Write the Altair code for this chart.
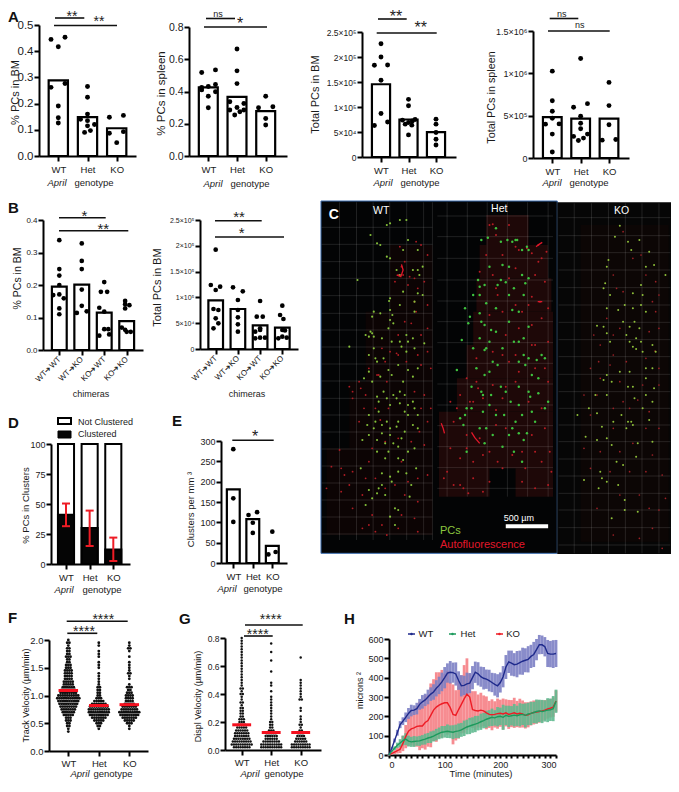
import altair as alt
import pandas as pd

W, H = 663, 771
FONT = "Liberation Sans"
GENO = ["WT", "Het", "KO"]
CHIM = ["WT➔WT", "WT➔KO", "KO➔WT", "KO➔KO"]

# ---------- panel A ----------
a1_bars = [0.289, 0.148, 0.106]
a1_dots = [[(-.25, .445), (.23, .453), (0, .417), (-.25, .262), (.23, .277), (0, .191), (0, .146), (0, .126)],
           [(0, .265), (0, .224), (0, .16), (-.24, .14), (0, .135), (.24, .12), (0, .115), (-.1, .09), (.1, .097)],
           [(-.25, .148), (.23, .155), (-.25, .087), (.23, .093), (0, .051)]]
a2_bars = [0.425, 0.367, 0.278]
a2_dots = [[(-.23, .518), (.25, .534), (-.23, .425), (.25, .443), (0, .431), (-.23, .41), (.25, .398), (0, .371), (0, .299)],
           [(0, .664), (0, .528), (0, .449), (-.25, .336), (.24, .326), (0, .301), (-.25, .285), (.24, .285), (.1, .274), (-.08, .254)],
           [(0, .371), (-.25, .299), (.25, .305), (0, .233), (0, .192)]]
a3_bars = [1.455e5, 0.75e5, 0.496e5]
a3_dots = [[(0, 2.265e5), (0, 2.0e5), (-.24, 1.836e5), (.24, 1.84e5), (0, 1.535e5), (0, .87e5), (-.24, .63e5), (.24, .70e5)],
           [(0, 1.153e5), (0, 1.025e5), (-.22, .737e5), (0, .69e5), (.24, .75e5), (.14, .72e5), (-.12, .657e5), (.12, .637e5), (0, .442e5)],
           [(0, .757e5), (0, .657e5), (0, .49e5), (0, .355e5), (0, .241e5)]]
a4_bars = [4.82e5, 4.66e5, 4.66e5]
a4_dots = [[(0, 1.026e6), (0, 6.77e5), (0, 5.52e5), (0, 4.7e5), (-.24, 4.0e5), (.24, 4.03e5), (0, 2.82e5), (0, .7e5)],
           [(0, 1.175e6), (-.25, 6.0e5), (.24, 6.42e5), (0, 4.93e5), (0, 4.11e5), (0, 3.45e5), (-.25, 2.55e5), (.24, 2.82e5), (-.08, 2.07e5), (.1, 2.35e5)],
           [(0, 8.93e5), (0, 6.19e5), (0, 3.92e5), (-.24, 2.11e5), (.24, 2.19e5)]]

# ---------- panel B ----------
b1_bars = [.195, .201, .115, .089]
b1_dots = [[(0, .338), (0, .249), (0, .229), (0, .2), (-.27, .169), (0, .171), (.2, .159), (0, .128), (0, .11)],
           [(0, .328), (0, .274), (0, .249), (0, .186), (0, .136), (-.22, .114), (.22, .119)],
           [(0, .209), (-.15, .179), (.13, .179), (-.22, .13), (0, .118), (0, .064), (.18, .064), (-.22, .044), (.22, .048)],
           [(-.07, .151), (-.07, .141), (.12, .138), (-.07, .128), (-.22, .069), (-.07, .062), (.18, .056), (0, .056)]]
b2_bars = [.943e5, .775e5, .459e5, .413e5]
b2_dots = [[(0, 1.925e5), (-.22, 1.24e5), (.2, 1.208e5), (0, 1.143e5), (-.1, .775e5), (.12, .756e5), (0, .594e5), (.12, .497e5), (-.1, .40e5)],
           [(-.22, 1.195e5), (.22, 1.118e5), (0, .95e5), (0, .756e5), (0, .614e5), (0, .478e5), (0, .336e5)],
           [(0, .93e5), (-.15, .627e5), (.12, .627e5), (0, .40e5), (-.22, .336e5), (0, .22e5), (-.22, .207e5), (.22, .22e5), (0, .368e5)],
           [(0, .84e5), (-.1, .659e5), (.05, .581e5), (0, .368e5), (-.18, .207e5), (0, .239e5), (.2, .22e5), (.12, .36e5)]]

# ---------- panels D, E ----------
d_clustered = [41, 30, 12]
d_err_low = [31.5, 15, 2.5]
d_err_high = [50.4, 44.5, 22]
e_bars = [181, 108, 42]
e_dots = [[(0, 280), (0, 159), (0, 101)],
          [(-.22, 118), (.22, 125), (0, 99), (0, 74)],
          [(0, 77), (-.2, 21), (.17, 27)]]

# ---------- panels F, G (value, number of cells at that value) ----------
f_means = [1.09, .82, .835]
f_swarm = [
    [(.35, 1), (.4, 1), (.45, 2), (.5, 2), (.55, 3), (.6, 3), (.65, 5), (.7, 6), (.75, 7), (.8, 8), (.85, 9), (.9, 10), (.95, 11), (1.0, 10), (1.05, 8), (1.1, 7), (1.15, 6), (1.2, 5), (1.25, 5), (1.3, 4), (1.35, 4), (1.4, 4), (1.45, 4), (1.5, 3), (1.55, 3), (1.6, 2), (1.65, 2), (1.7, 3), (1.75, 2), (1.8, 2), (1.85, 2), (1.9, 1), (1.95, 2), (2.0, 1)],
    [(.4, 1), (.45, 2), (.5, 3), (.55, 5), (.6, 7), (.65, 9), (.7, 10), (.75, 10), (.8, 9), (.85, 7), (.9, 5), (.95, 3), (1.0, 2), (1.05, 2), (1.1, 2), (1.15, 2), (1.2, 1), (1.25, 1), (1.3, 1), (1.35, 1), (1.4, 1), (1.5, 1), (1.55, 1), (1.6, 1), (1.7, 1), (1.75, 1), (1.8, 1), (1.9, 1), (1.95, 1)],
    [(.4, 1), (.45, 1), (.5, 3), (.55, 5), (.6, 7), (.65, 9), (.7, 10), (.75, 8), (.8, 7), (.85, 5), (.9, 4), (.95, 4), (1.0, 4), (1.05, 3), (1.1, 2), (1.15, 3), (1.2, 1), (1.3, 1), (1.35, 1), (1.4, 2), (1.45, 1), (1.5, 1), (1.55, 1), (1.6, 1), (1.7, 1), (1.8, 1), (1.85, 2), (1.9, 1), (1.95, 1)]]
g_means = [.18, .125, .125]
g_swarm = [
    [(.02, 8), (.04, 10), (.06, 9), (.08, 8), (.1, 7), (.12, 7), (.14, 6), (.16, 5), (.18, 4), (.2, 3), (.22, 3), (.24, 2), (.26, 2), (.28, 2), (.3, 2), (.32, 1), (.34, 2), (.36, 1), (.38, 1), (.4, 2), (.42, 1), (.44, 2), (.46, 1), (.48, 1), (.5, 1), (.52, 1), (.54, 1), (.56, 1), (.58, 1), (.6, 1), (.62, 1), (.64, 1), (.66, 1), (.68, 1), (.7, 1), (.72, 1), (.74, 1), (.76, 1), (.78, 1), (.8, 1)],
    [(.02, 10), (.04, 10), (.06, 8), (.08, 6), (.1, 6), (.12, 5), (.14, 3), (.16, 2), (.18, 2), (.2, 2), (.22, 1), (.24, 1), (.26, 1), (.28, 1), (.3, 1), (.32, 1), (.34, 1), (.36, 1), (.38, 1), (.42, 1), (.46, 1), (.48, 1), (.56, 1), (.64, 1), (.7, 1), (.76, 1)],
    [(.02, 9), (.04, 9), (.06, 6), (.08, 5), (.1, 4), (.12, 3), (.14, 2), (.16, 1), (.18, 2), (.2, 1), (.22, 1), (.24, 1), (.28, 1), (.3, 1), (.36, 2), (.38, 1), (.4, 1), (.42, 1), (.44, 1), (.46, 1), (.48, 1), (.5, 1), (.66, 1)]]

# ---------- panel H (one value every 5 minutes) ----------
h_time = list(range(0, 301, 5))
h_wt = [0, 35, 75, 115, 157, 175, 195, 215, 230, 232, 240, 262, 275, 285, 300, 315, 326, 345, 360, 378,
        400, 424, 428, 426, 419, 385, 358, 360, 368, 372, 400, 428, 420, 405, 397, 392, 385, 375, 365, 358,
        375, 405, 455, 482, 475, 467, 470, 478, 485, 490, 495, 510, 520, 545, 571, 570, 560, 525, 522, 522, 525]
h_wt_sd = [2, 6, 10, 15, 18, 20, 25, 28, 30, 25, 30, 28, 35, 32, 38, 35, 40, 42, 45, 48,
           55, 50, 58, 52, 60, 48, 55, 50, 58, 52, 60, 55, 60, 52, 58, 50, 56, 50, 58, 60,
           52, 55, 62, 58, 65, 60, 68, 62, 70, 62, 68, 60, 65, 55, 50, 48, 50, 70, 68, 72, 70]
h_het = [0, 20, 35, 50, 62, 75, 82, 72, 68, 70, 72, 73, 78, 82, 88, 92, 98, 105, 112, 118,
         120, 123, 120, 118, 122, 125, 130, 138, 145, 150, 155, 160, 165, 172, 178, 185, 190, 195, 192, 198,
         200, 195, 205, 200, 203, 206, 203, 208, 210, 205, 212, 215, 220, 225, 228, 225, 228, 232, 234, 240, 278]
h_het_sd = [2, 5, 10, 14, 20, 25, 30, 28, 26, 28, 24, 26, 25, 28, 26, 30, 28, 30, 30, 32,
            30, 35, 33, 36, 35, 38, 36, 40, 38, 42, 40, 42, 38, 42, 40, 44, 42, 45, 40, 50,
            45, 65, 50, 55, 50, 58, 52, 60, 55, 62, 58, 60, 55, 62, 58, 60, 55, 62, 58, 65, 60]
h_ko = [0, 8, 15, 22, 30, 60, 95, 123, 135, 140, 148, 150, 150, 168, 178, 205, 232, 248, 258, 265,
        270, 270, 245, 210, 205, 235, 262, 290, 315, 300, 235, 230, 228, 232, 228, 218, 210, 208, 210, 214,
        216, 212, 218, 210, 214, 218, 212, 216, 212, 205, 208, 215, 220, 222, 225, 228, 232, 238, 242, 248, 279]
h_ko_sd = [3, 6, 10, 14, 20, 40, 60, 75, 85, 95, 105, 125, 115, 140, 135, 165, 160, 180, 170, 175,
           150, 165, 130, 155, 130, 150, 150, 175, 185, 120, 95, 100, 85, 90, 80, 85, 70, 80, 68, 78,
           70, 80, 70, 75, 70, 78, 68, 75, 70, 68, 65, 62, 62, 60, 58, 55, 52, 50, 48, 50, 55]

# ---------- panel C (positions read in panel units) ----------
wt_green = [(205,90),(245,75),(265,75),(215,85),(155,120),(175,145),(185,150),(270,135),(300,165),(255,165),(205,185),(215,190),(235,225),(285,225),(300,225),(315,215),(245,240),(305,240),(115,255),(255,290),(300,295),(215,310),(212,318),(245,330),(315,300),(290,320),(165,350),(185,355),(215,345),(222,360),(215,375),(225,385),(160,365),(210,400),(160,415),(150,425),(165,425),(190,430),(265,420),(270,440),(285,430),(245,440),(90,455),(165,460),(170,490),(195,490),(240,510),(265,470),(290,460),(320,445),(150,530),(135,550),(160,560),(185,545),(220,540),(255,560),(285,545),(300,520),(175,605),(195,590),(235,610),(245,625),(270,630),(285,620),(290,640),(215,630),(150,660),(180,650),(205,680),(240,680),(235,695),(270,660),(285,690),(300,700),(145,690),(165,700),(190,715),(215,720),(225,745),(240,755),(250,730),(130,735),(270,770),(255,795),(290,760),(125,820),(200,790),(190,835),(215,845),(240,830),(265,835),(295,820),(180,880),(175,895),(190,870),(150,885),(230,940),(240,945),(140,930),(215,965),(280,870),(275,905),
            (150,720),(175,735),(200,745),(245,590),(260,600),(225,600),(205,610),(180,620),(260,650),(300,660),(170,680),(190,690),(215,700),(260,710),(175,770),(210,770),(240,790),(175,500),(150,480),(210,525),(270,525),(140,420),(155,410),(250,455),(220,440),(200,900),(220,860),(160,910),(230,990),(290,350)]
wt_red = [(250,215),(240,240),(255,240),(275,245),(290,250),(295,140),(245,155),(90,575),(100,590),(125,580),(140,600),(100,610),(180,540),(205,560),(235,475),(300,480),(330,400),(280,385),(190,460),(60,765),(35,815),(65,820),(75,840),(20,880),(65,890),(90,870),(185,675),(340,640),(305,710),(290,320),(320,600),(250,800),(200,880),(150,990),(205,1020),(170,1010),(260,900),(240,1000),(300,920),
          (120,560),(150,520),(175,540),(200,500),(215,470),(240,480),(265,500),(310,510),(330,470),(340,520),(290,590),(310,640),(330,680),(210,640),(170,640),(135,640),(120,680),(160,760),(200,740),(240,730),(280,740),(320,750),(150,800),(100,830),(140,850),(170,850),(230,870),(270,860),(300,850),(330,840),(130,900),(100,940),(160,960),(250,960),(290,970),(130,1000),(190,990),(300,1010),(270,270),(230,260),(320,260),(300,280),(260,200),(330,180),(310,150),(295,350),(330,330),(260,380),(240,420),(310,420)]
het_green = [(515,128),(555,140),(575,135),(590,140),(605,135),(635,155),(495,135),(520,215),(560,210),(620,240),(630,265),(640,250),(555,255),(570,262),(485,255),(505,270),(490,275),(595,280),(625,300),(510,325),(540,340),(445,340),(460,365),(490,355),(495,380),(505,390),(525,405),(540,410),(455,385),(610,350),(580,380),(625,430),(640,395),(505,465),(510,460),(490,430),(435,435),(595,440),(625,480),(640,490),(630,510),(680,480),(545,510),(505,540),(480,520),(420,525),(520,530),(650,540),(670,550),(465,575),(495,590),(525,600),(555,575),(585,620),(645,605),(670,595),(610,630),(430,670),(445,660),(465,640),(500,650),(520,630),(600,680),(660,680),(565,660),(440,690),(490,700),(510,700),(530,720),(580,720),(610,715),(635,715),(625,735),(450,770),(505,745),(595,770),(620,800),(560,755),(650,650),(700,620),(690,640),(640,165),(540,100),(580,300),(470,300),(610,440),(520,440),
             (600,135),(620,165),(580,215),(490,300),(545,270),(530,500),(570,590),(640,590),(610,575),(590,700),(450,640),(690,490),(665,495),(610,500),(470,460),(560,460),(590,345),(500,600),(540,660),(620,660)]
het_red = [(530,88),(580,90),(520,90),(670,150),(695,170),(670,200),(650,305),(675,320),(570,575),(540,645),(545,800),(635,160),(600,155),(485,580),(560,610),(420,640),(400,620),(440,880),(430,870),(520,860),(380,850),(470,850),(500,780),(590,780),(660,770),(705,770),(580,250),(545,300),(620,350),(650,450),(580,500),(470,620),(600,560),(690,520),(450,760),(630,820),
           (540,120),(610,165),(650,175),(680,190),(560,180),(510,180),(490,230),(530,240),(600,220),(660,240),(690,260),(540,280),(640,330),(700,340),(600,330),(560,350),(520,360),(680,370),(650,390),(610,400),(570,420),(530,470),(560,480),(600,480),(660,450),(700,440),(480,490),(450,550),(480,560),(530,570),(610,530),(660,520),(700,560),(430,600),(460,620),(500,610),(640,620),(680,640),(410,680),(450,720),(490,730),(540,690),(570,700),(650,720),(690,700),(400,760),(430,790),(470,800),(520,770),(560,820),(620,770),(680,800),(710,830),(390,830),(410,870),(455,895),(500,890),(620,860),(660,880),(700,870)]
ko_green = [(920,92),(905,125),(945,140),(980,135),(1010,170),(955,165),(885,195),(880,215),(1000,215),(1025,210),(1060,240),(875,265),(890,300),(960,295),(985,270),(880,340),(915,345),(985,330),(1000,350),(850,392),(870,395),(965,380),(950,395),(980,400),(940,420),(970,430),(985,440),(960,455),(970,462),(880,415),(1030,470),(880,540),(870,555),(920,530),(1020,520),(1000,550),(1025,580),(945,575),(960,575),(1000,600),(965,610),(880,600),(790,660),(850,655),(925,660),(945,680),(955,680),(1010,675),(865,695),(880,730),(815,725),(850,735),(940,700),(975,745),(860,830),(865,850),(855,880),(810,855),(910,800),(970,785),(915,870),(935,915),(895,970),(935,945),(975,950),(1020,620),(990,640),
            (870,280),(935,330),(960,340),(990,300),(930,380),(950,440),(990,470),(1000,520),(895,560),(950,530),(845,600),(825,640),(900,680),(960,690),(1020,740),(895,750),(930,810),(880,860),(1020,450),(890,440)]
ko_red = [(1028,468),(855,500),(890,510),(975,615),(960,745),(1020,1000),(920,560),(985,180),(1040,300),(1030,350),(900,640),(1060,910),(1040,945),(850,600),(900,420),(1000,700),(950,640),(910,280),(840,420),
          (930,110),(960,190),(1000,240),(1030,260),(900,240),(930,290),(1020,320),(880,370),(920,400),(1010,410),(1040,400),(860,450),(900,480),(940,500),(1000,490),(1040,520),(830,520),(860,550),(990,570),(1040,570),(810,600),(930,620),(1010,650),(830,660),(900,700),(1040,700),(810,760),(860,770),(920,770),(1020,780),(830,820),(890,830),(950,830),(1000,830),(1050,840),(920,900),(980,900),(1010,940),(850,940),(900,1020),(1050,1060),(980,1030)]
streaks = [[(250,208),(255,225),(248,245),(235,240)], [(372,685),(378,700),(382,715)],
           [(465,712),(475,728),(490,745)], [(663,155),(672,148),(682,142)], [(668,320),(682,320)]]
# rows of tissue haze: top, bottom, left, right
het_haze = [(60,150,510,640),(150,250,490,700),(250,350,480,710),(350,450,470,715),(450,550,450,715),
            (550,650,420,715),(650,820,365,715),(820,905,365,520),(820,905,600,715)]
wt_haze = [(150,350,215,345),(350,560,140,345),(560,760,90,345),(760,1020,20,345)]
ko_haze = [(90,1040,800,1070)]
wt_gv = [60, 112, 163, 214, 266, 318, 345]
wt_gh = [97, 148, 200, 250, 302, 355, 405, 456, 507, 558, 610, 660, 711, 762, 813, 864, 915, 966, 1017]
het_gv = [390, 452, 513, 575, 637, 700]
het_gh = [63, 125, 190, 255, 318, 380, 443, 505, 567, 630, 692, 755, 818, 880]
ko_gv = [780, 833, 885, 937, 988, 1040]
ko_gh = [68, 122, 173, 225, 278, 330, 382, 434, 485, 538, 590, 640, 690, 740, 792, 843, 895, 945, 998, 1050]

layers = []


def mkscale(dom, rng):
    return alt.Scale(domain=dom, range=rng, nice=False, zero=False)


PAGE = (mkscale([0, 679], [-8, 671]), mkscale([0, 792], [-8, 784]))
IMG = (mkscale([0, 1077], [312, 663]), mkscale([0, 1095], [187, 552]))


def enc(s, x="x", y="y", xa=None, ya=None, **kw):
    e = dict(x=alt.X(x, type="quantitative", scale=s[0], axis=xa),
             y=alt.Y(y, type="quantitative", scale=s[1], axis=ya))
    for k, v in kw.items():
        if k == "x2":
            e["x2"] = alt.X2(v)
        elif k == "y2":
            e["y2"] = alt.Y2(v)
        else:
            e[k] = v
    return e


def text(px, py, s, size=9.5, color="#1a1a1a", scale=PAGE, **kw):
    layers.append(alt.Chart(pd.DataFrame({"x": [px], "y": [py]})).mark_text(
        text=s, fontSize=size, font=FONT, color=color, **kw).encode(**enc(scale)))


def bracket(x1, x2, y):
    layers.append(alt.Chart(pd.DataFrame({"x": [x1], "xe": [x2], "y": [y]})).mark_rule(
        color="#111", strokeWidth=1.6).encode(**enc(PAGE, x2="xe")))


def stars(x, yc, s, size=16):
    text(x, yc + .58 * size, s, size=size, baseline="alphabetic", color="#222", align="center")


def april(xa, xg, y, size=9.5):
    text(xa, y, "April", size=size, fontStyle="italic")
    text(xg, y, "genotype", size=size)


def lab_expr(mapping):
    return "{" + ",".join(f"'{k}':'{v}'" for k, v in mapping.items()) + "}[''+datum.value]"


def axes(x0, x1, y0, yt, centers, names, yvals, ylabels, title, tx, ty, lsize, tsize, xsize=9.5, angle=None, xpad=3):
    sp = (centers[-1] - centers[0]) / (len(centers) - 1)
    xs = mkscale([(x0 - centers[0]) / sp, (x1 - centers[0]) / sp], [x0 - 8, x1 - 8])
    ys = mkscale([yvals[0], yvals[-1]], [y0 - 8, yt - 8])
    xkw = dict(labelAngle=angle, labelAlign="right", labelBaseline="middle") if angle is not None else {}
    xa = alt.Axis(orient="bottom", offset=(y0 - 8) - H, values=list(range(len(names))), title=None,
                  labelExpr="[" + ",".join(f"'{n}'" for n in names) + "][datum.value]",
                  labelFontSize=xsize, labelPadding=xpad, labelOverlap=False, **xkw)
    ya = alt.Axis(orient="left", offset=-(x0 - 8), values=yvals, title=title, titleFontSize=tsize,
                  titleX=tx - x0, titleY=ty - 8, titleAngle=270, titleBaseline="middle", titleAlign="center",
                  labelFontSize=lsize, labelPadding=1,
                  labelExpr=lab_expr(dict(zip([str(v) for v in yvals], ylabels))), labelOverlap=False)
    return (xs, ys), xa, ya


def bar_panel(x0, x1, y0, yt, centers, names, yvals, ylabels, title, tx, ty, lsize, tsize, bars, dots,
              half=.33, size=24, xsize=9.5, angle=None):
    s, xa, ya = axes(x0, x1, y0, yt, centers, names, yvals, ylabels, title, tx, ty, lsize, tsize, xsize, angle)
    df = pd.DataFrame({"x": [i - half for i in range(len(bars))], "xe": [i + half for i in range(len(bars))],
                       "y": bars, "ye": [0] * len(bars)})
    layers.append(alt.Chart(df).mark_rect(fill="white", stroke="black", strokeWidth=2.2).encode(
        **enc(s, xa=xa, ya=ya, x2="xe", y2="ye")))
    rows = [{"x": i + o, "y": v} for i, g in enumerate(dots) for o, v in g]
    layers.append(alt.Chart(pd.DataFrame(rows)).mark_circle(size=size, color="black", opacity=1).encode(**enc(s)))


# ---------- A ----------
bar_panel(39, 136, 156, 25, [58.3, 87.3, 116.7], GENO, [0, .1, .2, .3, .4, .5],
          ["0.0", "0.1", "0.2", "0.3", "0.4", "0.5"], "%  PCs in  BM", 15, 92, 11.5, 11, a1_bars, a1_dots)
bar_panel(189, 287, 156, 27, [208.3, 237.3, 265.7], GENO, [0, .2, .4, .6, .8],
          ["0.0", "0.2", "0.4", "0.6", "0.8"], "%  PCs in spleen", 161, 93, 10.5, 11.5, a2_bars, a2_dots)
bar_panel(362, 456, 157, 32, [381, 408.3, 436], GENO, [0, 50000, 100000, 150000, 200000, 250000],
          ["0", "5×10⁴", "1×10⁵", "1.5×10⁵", "2×10⁵", "2.5×10⁵"], "Total PCs in BM", 315, 94, 8.5, 11, a3_bars, a3_dots)
bar_panel(533, 629, 158, 31, [552.3, 580.7, 609], GENO, [0, 500000, 1000000, 1500000],
          ["0", "5×10⁵", "1×10⁶", "1.5×10⁶"], "Total PCs in spleen", 491, 97, 9, 10.8, a4_bars, a4_dots)
april(57, 94, 183)
april(213, 250, 184)
april(383, 420, 183)
april(552, 589, 183)
bracket(55, 84.3, 18); stars(72, 12.5, "**", 14)
bracket(54, 117, 25.5); stars(99, 18, "**", 14)
bracket(206, 235, 18.5); text(218, 13.5, "ns", size=9)
bracket(204, 267, 27); stars(240, 19.5, "*")
bracket(378, 406.7, 19); stars(396, 13, "**")
bracket(376.7, 436.7, 33); stars(420.7, 24, "**")
bracket(549.7, 578.3, 18.5); text(561.7, 13.5, "ns", size=9)
bracket(548, 609.7, 31); text(579.7, 24.5, "ns", size=9)

# ---------- B ----------
bar_panel(43, 143, 350, 220, [59.3, 81.7, 104.3, 126.7], CHIM, [0, .1, .2, .3, .4],
          ["0.0", "0.1", "0.2", "0.3", "0.4"], "%  PCs in  BM", 17, 278, 8, 10.5, b1_bars, b1_dots,
          size=22, xsize=8, angle=-45)
bar_panel(200, 298, 349, 220, [215.7, 237.3, 260, 282.3], CHIM, [0, 50000, 100000, 150000, 200000, 250000],
          ["0", "5×10⁴", "1×10⁵", "1.5×10⁵", "2×10⁵", "2.5×10⁵"], "Total PCs in BM", 157, 287, 7, 11, b2_bars, b2_dots,
          size=22, xsize=8, angle=-45)
text(91, 394, "chimeras", size=9)
text(247, 394, "chimeras", size=9)
bracket(59, 105.7, 217.7); stars(84.3, 212, "*", 15)
bracket(59, 128.3, 230.7); stars(103.3, 225.7, "**", 15)
bracket(215, 261.7, 220.7); stars(239, 213.5, "**", 15)
bracket(215, 284, 237); stars(241.7, 229.5, "*", 15)

# ---------- D ----------
s, xa, ya = axes(51, 130, 564, 444, [66, 89.3, 113.3], GENO, [0, 25, 50, 75, 100],
                 ["0", "25", "50", "75", "100"], "% PCs in Clusters", 25, 505, 9, 9.5)
df = pd.DataFrame({"x": [i - .34 for i in range(3)], "xe": [i + .34 for i in range(3)],
                   "y": [100] * 3, "ye": [0] * 3, "c": d_clustered})
layers.append(alt.Chart(df).mark_rect(fill="white", stroke="black", strokeWidth=2).encode(
    **enc(s, xa=xa, ya=ya, x2="xe", y2="ye")))
layers.append(alt.Chart(df).mark_rect(fill="#050505", stroke="black", strokeWidth=2).encode(
    **enc(s, y="c", x2="xe", y2="ye")))
df_e = pd.DataFrame({"x": list(range(3)), "lo": d_err_low, "hi": d_err_high,
                     "a": [i - .17 for i in range(3)], "b": [i + .17 for i in range(3)]})
layers.append(alt.Chart(df_e).mark_rule(color="#ee1c25", strokeWidth=2).encode(**enc(s, y="lo", y2="hi")))
layers.append(alt.Chart(df_e).mark_rule(color="#ee1c25", strokeWidth=2).encode(**enc(s, x="a", y="lo", x2="b")))
layers.append(alt.Chart(df_e).mark_rule(color="#ee1c25", strokeWidth=2).encode(**enc(s, x="a", y="hi", x2="b")))
april(64, 102, 590)
leg = pd.DataFrame({"x": [58, 58], "xe": [71, 71], "y": [418, 431], "ye": [424, 438]})
layers.append(alt.Chart(leg.iloc[[0]]).mark_rect(fill="white", stroke="black", strokeWidth=2).encode(**enc(PAGE, x2="xe", y2="ye")))
layers.append(alt.Chart(leg.iloc[[1]]).mark_rect(fill="#050505", stroke="black", strokeWidth=1).encode(**enc(PAGE, x2="xe", y2="ye")))
text(78, 421.5, "Not Clustered", size=9, align="left")
text(78, 434, "Clustered", size=9, align="left")

# ---------- E ----------
bar_panel(221, 287, 563, 441, [233.3, 252.7, 272.3], GENO, [0, 50, 100, 150, 200, 250, 300],
          ["0", "50", "100", "150", "200", "250", "300"], "Clusters per mm ³", 190, 509, 9, 9.5, e_bars, e_dots, size=22)
april(227, 263, 589)
bracket(232.3, 273.7, 440.3); stars(255, 433, "*")


# ---------- F, G ----------
def swarm_panel(x0, x1, y0, yt, centers, yvals, ylabels, title, tx, ty, lsize, tsize, swarm, means, step, size, half):
    s, xa, ya = axes(x0, x1, y0, yt, centers, GENO, yvals, ylabels, title, tx, ty, lsize, tsize, xsize=9.5, xpad=2)
    rows = [{"x": i + (j - (n - 1) / 2) * step, "y": v}
            for i, g in enumerate(swarm) for v, n in g for j in range(n)]
    layers.append(alt.Chart(pd.DataFrame(rows)).mark_circle(size=size, color="#111", opacity=1).encode(
        **enc(s, xa=xa, ya=ya)))
    df = pd.DataFrame({"x": [i - half for i in range(3)], "xe": [i + half for i in range(3)], "y": means})
    layers.append(alt.Chart(df).mark_rule(color="#f5101f", strokeWidth=3).encode(**enc(s, x2="xe")))


swarm_panel(49, 148, 751, 640, [68.3, 98.3, 129.3], [0, .5, 1, 1.5, 2], ["0.0", "0.5", "1.0", "1.5", "2.0"],
            "Track Velocity (µm/min)", 25, 695, 9.5, 9, f_swarm, f_means, .072, 8, .32)
swarm_panel(225, 321, 750, 638, [241.7, 271.7, 300.7], [0, .2, .4, .6, .8], ["0.0", "0.2", "0.4", "0.6", "0.8"],
            "Displ Velocity (µm/min)", 197, 696, 8.5, 9, g_swarm, g_means, .075, 6, .32)
april(80, 113, 774, size=9.5)
april(250, 284, 774, size=9.5)
bracket(67.3, 97.3, 633.3); stars(84, 628, "****", 14)
bracket(66.7, 127.7, 621.3); stars(103.3, 615.5, "****", 14)
bracket(244, 272.7, 636); stars(257.7, 630.5, "****", 14)
bracket(245, 302.7, 625); stars(270.7, 616, "****", 14)

# ---------- H ----------
hs = (mkscale([0, 300], [389 - 8, 556 - 8]), mkscale([0, 600], [755 - 8, 639 - 8]))
hx = alt.Axis(orient="bottom", offset=(755 - 8) - H, values=list(range(0, 301, 10)), title=None,
              labelExpr="datum.value % 100 === 0 ? datum.value : ''", labelFontSize=9, labelPadding=2,
              tickSize=3, labelOverlap=False)
hy = alt.Axis(orient="left", offset=-(389 - 8), values=list(range(0, 601, 100)), title="microns ²", titleFontSize=9,
              titleX=359 - 389, titleY=690 - 8, titleAngle=270, titleBaseline="middle", titleAlign="center",
              labelFontSize=9, labelPadding=1, labelOverlap=False)
series = [("KO", h_ko, h_ko_sd, "#ee1c25", "#f57f85"), ("WT", h_wt, h_wt_sd, "#1f2a8c", "#7c80c4"),
          ("Het", h_het, h_het_sd, "#1c9a5c", "#5fb98f")]
first = True
for name, m, sd, col, band in series:
    df = pd.DataFrame({"x": h_time, "y": m, "lo": [a - b for a, b in zip(m, sd)], "hi": [a + b for a, b in zip(m, sd)]})
    kw = dict(xa=hx, ya=hy) if first else {}
    first = False
    layers.append(alt.Chart(df).mark_rule(color=band, strokeWidth=2.8, opacity=.9).encode(**enc(hs, y="lo", y2="hi", **kw)))
for name, m, sd, col, band in series:
    df = pd.DataFrame({"x": h_time, "y": m})
    layers.append(alt.Chart(df).mark_line(color=col, strokeWidth=1.4).encode(**enc(hs)))
for x1, col, tx, name in [(408, "#1f2a8c", 426, "WT"), (449, "#1c9a5c", 468, "Het"), (496, "#ee1c25", 513, "KO")]:
    bracket_df = pd.DataFrame({"x": [x1], "xe": [x1 + 7], "y": [634]})
    layers.append(alt.Chart(bracket_df).mark_rule(color=col, strokeWidth=1.5).encode(**enc(PAGE, x2="xe")))
    layers.append(alt.Chart(pd.DataFrame({"x": [x1 + 3.5], "y": [634]})).mark_circle(size=6, color=col, opacity=1).encode(**enc(PAGE)))
    text(tx, 633.5, name, size=9.5)
text(481, 774, "Time (minutes)", size=9.5)

# ---------- C ----------
layers.append(alt.Chart(pd.DataFrame({"x": [3], "xe": [728], "y": [18], "ye": [1075]})).mark_rect(
    fill="#030405", stroke="#3f6fb0", strokeWidth=1).encode(**enc(IMG, x2="xe", y2="ye")))
layers.append(alt.Chart(pd.DataFrame({"x": [728], "xe": [1077], "y": [22], "ye": [1077]})).mark_rect(
    fill="#060606").encode(**enc(IMG, x2="xe", y2="ye")))
for rows_, col in [(het_haze, "#1e0808"), (wt_haze, "#0c0404"), (ko_haze, "#0c0605")]:
    df = pd.DataFrame(rows_, columns=["y", "ye", "x", "xe"])
    layers.append(alt.Chart(df).mark_rect(fill=col).encode(**enc(IMG, x2="xe", y2="ye")))
for gv, gh, (a, b), (c, d) in [(wt_gv, wt_gh, (5, 345), (22, 1035)), (het_gv, het_gh, (360, 715), (22, 905)),
                               (ko_gv, ko_gh, (732, 1075), (25, 1075))]:
    df = pd.DataFrame({"x": gv, "y": [c] * len(gv), "ye": [d] * len(gv)})
    layers.append(alt.Chart(df).mark_rule(color="#ffffff", opacity=.2, strokeWidth=.6).encode(**enc(IMG, y2="ye")))
    df = pd.DataFrame({"y": gh, "x": [a] * len(gh), "xe": [b] * len(gh)})
    layers.append(alt.Chart(df).mark_rule(color="#ffffff", opacity=.2, strokeWidth=.6).encode(**enc(IMG, x2="xe")))
for pts, col, sz in [(wt_red, "#b01c24", 3.5), (het_red, "#b81c24", 4), (ko_red, "#9c2026", 3),
                     (wt_green, "#86c23a", 4.5), (het_green, "#3fc23f", 6), (ko_green, "#8fc03a", 4)]:
    df = pd.DataFrame(pts, columns=["x", "y"])
    layers.append(alt.Chart(df).mark_circle(size=sz, color=col, opacity=1).encode(**enc(IMG)))
for i, st in enumerate(streaks):
    df = pd.DataFrame(st, columns=["x", "y"])
    df["o"] = range(len(df))
    layers.append(alt.Chart(df).mark_line(color="#e3172a", strokeWidth=1.3).encode(
        order="o:Q", **enc(IMG)))
layers.append(alt.Chart(pd.DataFrame({"x": [570], "xe": [700], "y": [988], "ye": [1000]})).mark_rect(
    fill="white").encode(**enc(IMG, x2="xe", y2="ye")))
text(188, 48, "WT", size=10.5, color="white", scale=IMG)
text(550, 42, "Het", size=10.5, color="white", scale=IMG)
text(925, 48, "KO", size=10.5, color="white", scale=IMG)
text(610, 970, "500 µm", size=9, color="white", scale=IMG)
text(368, 1007, "PCs", size=11, color="#8cc63f", scale=IMG, align="left")
text(368, 1050, "Autofluorescence", size=11, color="#e3172a", scale=IMG, align="left")
text(42, 60, "C", size=14, color="white", scale=IMG, fontWeight="bold")

# ---------- panel letters ----------
for px, py, s_ in [(8, 17, "A"), (8, 208, "B"), (8, 423, "D"), (172, 421, "E"), (8, 618, "F"), (179, 619, "G"), (344, 619, "H")]:
    text(px, py, s_, size=15, color="#111", fontWeight="bold", align="left")

chart = alt.layer(*layers).resolve_scale(x="independent", y="independent").resolve_axis(
    x="independent", y="independent"
).properties(width=W, height=H, padding=0, autosize=alt.AutoSizeParams(type="none")).configure_view(
    stroke=None).configure_axis(
    grid=False, domainColor="black", tickColor="black", labelColor="#1a1a1a", titleColor="#1a1a1a",
    domainWidth=2, tickWidth=2, tickSize=5, labelFont=FONT, titleFont=FONT, titleFontWeight="normal")
chart.save("out.html", embed_options={"renderer": "svg", "actions": False})
